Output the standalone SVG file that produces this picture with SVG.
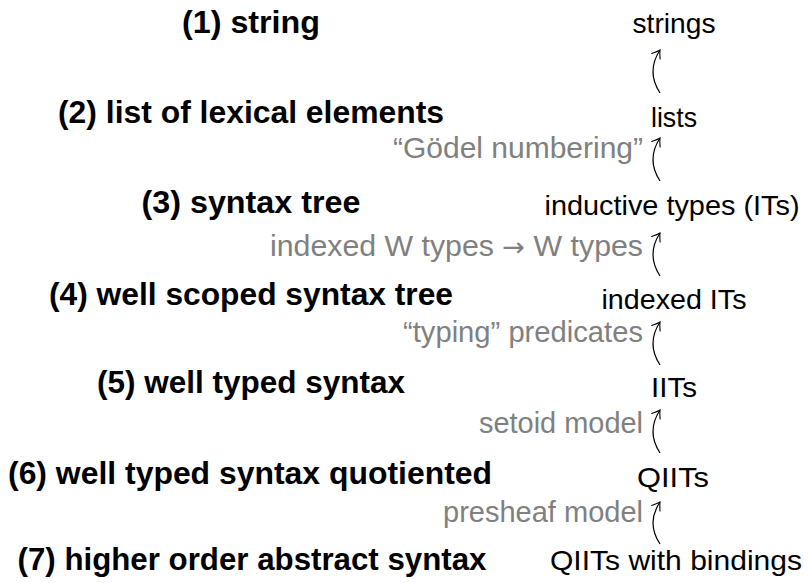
<svg xmlns="http://www.w3.org/2000/svg" width="808" height="583" viewBox="0 0 808 583">
<defs>
<style>
.l{font-family:"Liberation Sans",Arial,sans-serif;font-weight:bold;font-size:31px;fill:#000;text-anchor:middle}
.r{font-family:"Liberation Sans",Arial,sans-serif;font-size:28.5px;fill:#000;text-anchor:middle}
.g{font-family:"Liberation Sans",Arial,sans-serif;font-size:29px;fill:#808080;text-anchor:end}
.ar{font-family:"DejaVu Sans",sans-serif;font-size:26px}
.c{fill:none;stroke:#000;stroke-width:1.2}
</style>
<marker id="ah" markerWidth="14" markerHeight="14" refX="0" refY="0" viewBox="-11 -7 14 14" orient="auto" markerUnits="userSpaceOnUse">
<path d="M-7.5,-5 Q-2.5,-1.2 0,0 Q-2.5,1.2 -7.5,5" fill="none" stroke="#000" stroke-width="1.1" stroke-linecap="round"/>
</marker>
</defs>
<rect width="808" height="583" fill="#fff"/>
<g id="left-nodes">
<g id="n1"><text class="l" x="251" y="33" textLength="138" lengthAdjust="spacingAndGlyphs">(1) string</text></g>
<g id="n2"><text class="l" x="251" y="123" textLength="386" lengthAdjust="spacingAndGlyphs">(2) list of lexical elements</text></g>
<g id="n3"><text class="l" x="251" y="213" textLength="219" lengthAdjust="spacingAndGlyphs">(3) syntax tree</text></g>
<g id="n4"><text class="l" x="251" y="305" textLength="404" lengthAdjust="spacingAndGlyphs">(4) well scoped syntax tree</text></g>
<g id="n5"><text class="l" x="251" y="393" textLength="308" lengthAdjust="spacingAndGlyphs">(5) well typed syntax</text></g>
<g id="n6"><text class="l" x="250" y="484" textLength="484" lengthAdjust="spacingAndGlyphs">(6) well typed syntax quotiented</text></g>
<g id="n7"><text class="l" x="252" y="570" textLength="469" lengthAdjust="spacingAndGlyphs">(7) higher order abstract syntax</text></g>
</g>
<g id="right-nodes">
<g id="m1"><text class="r" x="674" y="33" textLength="83" lengthAdjust="spacingAndGlyphs">strings</text></g>
<g id="m2"><text class="r" x="674" y="127" textLength="46" lengthAdjust="spacingAndGlyphs">lists</text></g>
<g id="m3"><text class="r" x="672" y="215" textLength="255" lengthAdjust="spacingAndGlyphs">inductive types (ITs)</text></g>
<g id="m4"><text class="r" x="674" y="309" textLength="145" lengthAdjust="spacingAndGlyphs">indexed ITs</text></g>
<g id="m5"><text class="r" x="674" y="397" textLength="46" lengthAdjust="spacingAndGlyphs">IITs</text></g>
<g id="m6"><text class="r" x="673" y="487" textLength="72" lengthAdjust="spacingAndGlyphs">QIITs</text></g>
<g id="m7"><text class="r" x="676" y="570" textLength="252" lengthAdjust="spacingAndGlyphs">QIITs with bindings</text></g>
</g>
<g id="connectors">
<path class="c" d="M660,93 Q646,71.5 660,50" marker-end="url(#ah)"/>
<path class="c" d="M660,181 Q646,159.5 660,138" marker-end="url(#ah)"/>
<path class="c" d="M660,276 Q646,254.5 660,233" marker-end="url(#ah)"/>
<path class="c" d="M660,365 Q646,343.5 660,322" marker-end="url(#ah)"/>
<path class="c" d="M660,453 Q646,431.5 660,410" marker-end="url(#ah)"/>
<path class="c" d="M660,544 Q646,523 660,502" marker-end="url(#ah)"/>
<text class="g" x="643" y="158" textLength="250" lengthAdjust="spacingAndGlyphs">“Gödel numbering”</text>
<text class="g" x="643" y="256" textLength="373" lengthAdjust="spacingAndGlyphs">indexed W types <tspan class="ar">→</tspan> W types</text>
<text class="g" x="643" y="342" textLength="240" lengthAdjust="spacingAndGlyphs">“typing” predicates</text>
<text class="g" x="643" y="433" textLength="164" lengthAdjust="spacingAndGlyphs">setoid model</text>
<text class="g" x="643" y="522" textLength="200" lengthAdjust="spacingAndGlyphs">presheaf model</text>
</g>
</svg>
